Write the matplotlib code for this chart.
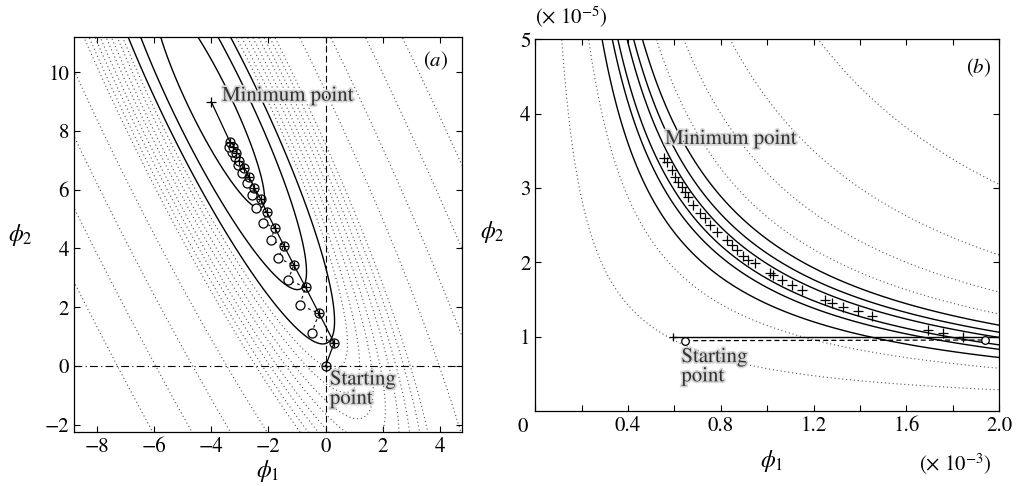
import matplotlib
matplotlib.use('Agg')
import matplotlib.pyplot as plt
import matplotlib.patheffects as pe
import numpy as np

plt.rcParams['font.family'] = 'STIXGeneral'
plt.rcParams['mathtext.fontset'] = 'stix'
plt.rcParams['font.size'] = 15

# ---- panel (a): valley of the objective, phi1 = c0 + c1*phi2 ----
valley_c0 = 0.26
valley_c1 = -0.48
valley_width = 0.225
min_a = (-4.0, 9.0)
solid_levels_a = [3.63, 6.4, 8.25]
dotted_levels_a = [9.1, 9.9, 10.8, 11.6, 12.5, 13.3, 14.2, 15.0, 18.8, 23.6, 29.0, 34.7]

main_phi1 = [0.0, 0.30, -0.23, -0.70, -1.11, -1.46, -1.77, -2.06, -2.27, -2.50, -2.68, -2.85, -3.02, -3.15, -3.23, -3.35]
main_phi2 = [0.0, 0.79, 1.79, 2.68, 3.44, 4.10, 4.70, 5.24, 5.69, 6.07, 6.45, 6.73, 6.98, 7.24, 7.47, 7.64]
trial_phi1 = [-0.49, -0.90, -1.31, -1.66, -1.92, -2.18, -2.42, -2.59, -2.76, -2.94, -3.06, -3.17, -3.29, -3.37]
trial_phi2 = [1.11, 2.08, 2.93, 3.67, 4.29, 4.88, 5.37, 5.82, 6.22, 6.56, 6.84, 7.13, 7.30, 7.47]

# ---- panel (b): phi1 in 1e-3, phi2 in 1e-5 ----
valley_b = 1.88
solid_offsets_b = [-0.44, -0.22, -0.10, 0.10, 0.24, 0.43]
dotted_offsets_b = [-1.31, -0.73, 0.73, 1.32, 2.32, 4.22]
path_phi1 = [0.555, 0.569, 0.588, 0.603, 0.617, 0.631, 0.646, 0.660, 0.681, 0.710, 0.732, 0.753,
             0.782, 0.826, 0.847, 0.869, 0.897, 0.919, 0.948, 1.012, 1.027, 1.063, 1.106, 1.149,
             1.250, 1.278, 1.328, 1.393, 1.451]
path_phi2 = [3.41, 3.35, 3.24, 3.15, 3.08, 3.02, 2.95, 2.88, 2.77, 2.66, 2.59, 2.50,
             2.41, 2.30, 2.23, 2.17, 2.08, 2.03, 1.99, 1.85, 1.83, 1.76, 1.69, 1.63,
             1.49, 1.45, 1.40, 1.34, 1.28]
end_phi1 = [1.695, 1.76, 1.846]
end_phi2 = [1.09, 1.045, 1.00]
line_b = (0.592, 2.0, 0.99)
circ_b_phi1 = [0.646, 1.94]
circ_b_phi2 = [0.946, 0.955]

dot_style = (0, (1, 2.5))
halo = [pe.withStroke(linewidth=2.5, foreground='#d8d8d8')]

fig = plt.figure(figsize=(10.16, 4.86), dpi=100)
ax1 = fig.add_axes([0.0728, 0.111, 0.3819, 0.8128])
ax2 = fig.add_axes([0.5269, 0.1543, 0.4564, 0.7648])

# panel (a)
gx, gy = np.meshgrid(np.linspace(-9.5, 5.5, 700), np.linspace(-3, 12, 700))
r = np.sqrt(((gx - (valley_c0 + valley_c1 * gy)) / valley_width) ** 2 + (gy - min_a[1]) ** 2)
ax1.contour(gx, gy, r, levels=dotted_levels_a, colors='#555555', linewidths=0.8,
            linestyles=[dot_style])
ax1.contour(gx, gy, r, levels=solid_levels_a, colors='black', linewidths=1.0, linestyles='solid')

ax1.axvline(0, color='black', lw=0.8, ls=(0, (6, 3)))
ax1.axhline(0, color='black', lw=0.8, ls=(0, (7, 3, 1, 3)))

ax1.plot(main_phi1 + [min_a[0]], main_phi2 + [min_a[1]], color='black', lw=0.9)
zz1, zz2 = [], []
for i in range(len(trial_phi1)):
    zz1 += [main_phi1[i + 1], trial_phi1[i]]
    zz2 += [main_phi2[i + 1], trial_phi2[i]]
zz1.append(main_phi1[len(trial_phi1) + 1])
zz2.append(main_phi2[len(trial_phi1) + 1])
ax1.plot(zz1, zz2, color='black', lw=0.8, ls=(0, (2.5, 3)))
ax1.plot(trial_phi1, trial_phi2, 'o', mfc='white', mec='black', ms=6.5, mew=0.9)
ax1.plot(main_phi1, main_phi2, 'o', mfc='none', mec='black', ms=6.5, mew=0.9)
ax1.plot(main_phi1, main_phi2, '+', color='black', ms=6, mew=0.9)
ax1.plot([min_a[0]], [min_a[1]], '+', color='black', ms=7, mew=0.9)

ax1.text(-3.62, 9.2, 'Minimum point', color='#333333', va='center', fontsize=15, path_effects=halo)
ax1.text(0.15, -0.12, 'Starting\npoint', color='#333333', va='top', fontsize=15,
         linespacing=0.95, path_effects=halo)
ax1.text(3.85, 10.4, r'$(a)$', fontsize=15, ha='center', va='center')

ax1.set_xlim(-8.8, 4.77)
ax1.set_ylim(-2.25, 11.2)
ax1.set_xticks([-8, -6, -4, -2, 0, 2, 4])
ax1.set_xticklabels(['\u22128', '\u22126', '\u22124', '\u22122', '0', '2', '4'])
ax1.set_yticks([-2, 0, 2, 4, 6, 8, 10])
ax1.set_yticklabels(['\u22122', '0', '2', '4', '6', '8', '10'])
ax1.set_xlabel(r'$\phi_1$', fontsize=17, labelpad=1)
ax1.set_ylabel(r'$\phi_2$', fontsize=17, rotation=0)
ax1.yaxis.set_label_coords(-0.137, 0.466)

# panel (b)
bx, by = np.meshgrid(np.linspace(0.001, 2.05, 600), np.linspace(0.001, 5.1, 600))
prod = bx * by
ax2.contour(bx, by, prod, levels=sorted(valley_b + np.array(dotted_offsets_b)), colors='#555555',
            linewidths=0.8, linestyles=[dot_style])
ax2.contour(bx, by, prod, levels=sorted(valley_b + np.array(solid_offsets_b)), colors='black',
            linewidths=1.0, linestyles='solid')

ax2.plot([line_b[0], line_b[1]], [line_b[2], line_b[2]], color='black', lw=1.0)
ax2.plot([line_b[0]], [line_b[2]], '+', color='black', ms=6, mew=0.9)
ax2.plot(circ_b_phi1, circ_b_phi2, color='black', lw=0.9, ls=(0, (4, 2.5)))
ax2.plot(circ_b_phi1, circ_b_phi2, 'o', mfc='white', mec='black', ms=5.5, mew=0.9)
ax2.plot(path_phi1, path_phi2, '+', color='black', ms=6.5, mew=0.9)
ax2.plot(end_phi1, end_phi2, '+', color='black', ms=6.5, mew=0.9)

ax2.text(0.56, 3.66, 'Minimum point', color='#333333', va='center', fontsize=15, path_effects=halo)
ax2.text(0.63, 0.86, 'Starting\npoint', color='#333333', va='top', fontsize=15,
         linespacing=0.95, path_effects=halo)
ax2.text(1.91, 4.62, r'$(b)$', fontsize=15, ha='center', va='center')

ax2.set_xlim(0, 2.0)
ax2.set_ylim(0, 5)
ax2.set_xticks([0, 0.2, 0.4, 0.6, 0.8, 1.0, 1.2, 1.4, 1.6, 1.8, 2.0])
ax2.set_xticklabels(['', '', '0.4', '', '0.8', '', '1.2', '', '1.6', '', '2.0'])
ax2.set_yticks([1, 2, 3, 4, 5])
ax2.text(-0.027, -0.016, '0', transform=ax2.transAxes, ha='center', va='top', fontsize=15)
ax2.set_xlabel(r'$\phi_1$', fontsize=17)
ax2.xaxis.set_label_coords(0.51, -0.1)
ax2.set_ylabel(r'$\phi_2$', fontsize=17, rotation=0)
ax2.yaxis.set_label_coords(-0.093, 0.447)
ax2.text(0.0, 1.06, r'$(\times\ 10^{-5})$', transform=ax2.transAxes, ha='left', va='center', fontsize=15)
ax2.text(0.985, -0.145, r'$(\times\ 10^{-3})$', transform=ax2.transAxes, ha='right', va='center', fontsize=15)

for ax in (ax1, ax2):
    ax.tick_params(direction='in', top=True, right=True, length=4, width=0.8, labelsize=15)
    for s in ax.spines.values():
        s.set_linewidth(0.9)

fig.savefig('out.png', dpi=100)
